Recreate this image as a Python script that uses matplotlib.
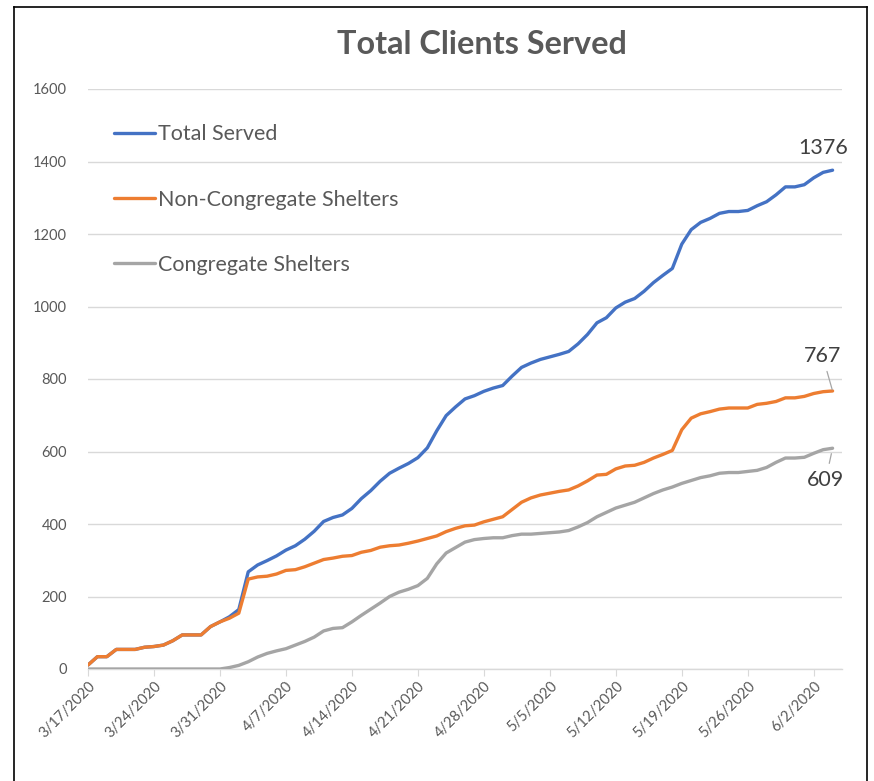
import numpy as np
import pandas as pd
import matplotlib
matplotlib.use("Agg")
import matplotlib.pyplot as plt
from matplotlib.lines import Line2D

plt.rcParams["font.family"] = ["Lato", "DejaVu Sans"]

# ---------------------------------------------------------------- data
dates = pd.date_range("2020-03-17", periods=80, freq="D")

non_congregate = [
    11, 34, 34, 54, 54, 54, 60, 62, 66, 78,
    94, 94, 94, 117, 130, 140, 154, 248, 254, 256,
    262, 272, 274, 282, 292, 302, 306, 311, 313, 322,
    327, 336, 340, 342, 347, 353, 360, 367, 379, 388,
    395, 397, 406, 413, 420, 440, 460, 472, 480, 485,
    490, 494, 505, 519, 535, 537, 552, 560, 562, 570,
    582, 592, 603, 660, 692, 704, 710, 717, 720, 720,
    720, 730, 733, 738, 748, 748, 752, 760, 765, 767,
]
congregate = [
    0, 0, 0, 0, 0, 0, 0, 0, 0, 0,
    0, 0, 0, 0, 0, 4, 10, 20, 33, 43,
    50, 56, 66, 76, 88, 105, 112, 114, 130, 148,
    165, 182, 200, 212, 220, 230, 250, 290, 320, 335,
    350, 357, 360, 362, 362, 368, 372, 372, 374, 376,
    378, 382, 392, 404, 420, 432, 444, 452, 460, 472,
    484, 494, 502, 512, 520, 528, 533, 540, 542, 542,
    545, 548, 556, 570, 582, 582, 584, 595, 605, 609,
]
total_served = [
    11, 34, 34, 54, 54, 54, 60, 62, 66, 78,
    94, 94, 94, 117, 130, 144, 164, 268, 287, 299,
    312, 328, 340, 358, 380, 407, 418, 425, 443, 470,
    492, 518, 540, 554, 567, 583, 610, 657, 699, 723,
    745, 754, 766, 775, 782, 808, 832, 844, 854, 861,
    868, 876, 897, 923, 955, 969, 996, 1012, 1022, 1042,
    1066, 1086, 1105, 1172, 1212, 1232, 1243, 1257, 1262, 1262,
    1265, 1278, 1289, 1308, 1330, 1330, 1336, 1355, 1370, 1376,
]

series = [
    ("Total Served", total_served, "#4472C4"),
    ("Non-Congregate Shelters", non_congregate, "#ED7D31"),
    ("Congregate Shelters", congregate, "#A5A5A5"),
]

tick_dates = pd.date_range("2020-03-17", "2020-06-02", freq="7D")
tick_labels = [f"{d.month}/{d.day}/{d.year}" for d in tick_dates]
y_ticks = [0, 200, 400, 600, 800, 1000, 1200, 1400, 1600]

# ---------------------------------------------------------------- figure
W, H = 874, 781
fig = plt.figure(figsize=(W / 100, H / 100), dpi=100)
ax = fig.add_axes([88 / W, 1 - 669 / H, (842 - 88) / W, (669 - 89) / H])

for name, vals, color in series:
    ax.plot(dates, vals, color=color, linewidth=2.4, label=name,
            solid_joinstyle="round", solid_capstyle="round", zorder=3)

ax.set_ylim(0, 1600)
ax.set_xlim(dates[0], dates[0] + pd.Timedelta(days=80))
ax.set_yticks(y_ticks)
ax.set_yticklabels([str(v) for v in y_ticks], fontsize=10.5, color="#595959")
ax.set_xticks(tick_dates)
ax.set_xticklabels(tick_labels, fontsize=10.5, color="#595959",
                   rotation=45, ha="right", rotation_mode="anchor")
ax.tick_params(axis="y", length=0, pad=15)
ax.tick_params(axis="x", length=5, width=0.8, color="#d9d9d9", pad=2)

ax.grid(axis="y", color="#d9d9d9", linewidth=1.0, zorder=0)
for s in ["top", "right", "left"]:
    ax.spines[s].set_visible(False)
ax.spines["bottom"].set_color("#d9d9d9")
ax.spines["bottom"].set_linewidth(1.0)

fig.text(482 / W, 1 - 45 / H, "Total Clients Served", ha="center", va="center",
         fontsize=23.3, fontweight="bold", color="#595959")

leg = ax.legend(loc="upper left", bbox_to_anchor=(114 / W, 1 - 124.5 / H),
                bbox_transform=fig.transFigure, frameon=False, fontsize=15.5,
                labelspacing=2.1, handlelength=1.9, handletextpad=0.15,
                borderpad=0, borderaxespad=0)
for t in leg.get_texts():
    t.set_color("#595959")

# data labels on last points
last = dates[-1]
ax.annotate("1376", xy=(last, total_served[-1]), xytext=(-9, 22),
            textcoords="offset pixels", ha="center", va="center",
            fontsize=15.5, color="#404040")
ax.annotate("767", xy=(last, non_congregate[-1]), xytext=(-10, 35),
            textcoords="offset pixels", ha="center", va="center",
            fontsize=15.5, color="#404040",
            arrowprops=dict(arrowstyle="-", color="#a6a6a6", lw=0.9,
                            shrinkA=2, shrinkB=1))
ax.annotate("609", xy=(last, congregate[-1]), xytext=(-7, -32),
            textcoords="offset pixels", ha="center", va="center",
            fontsize=15.5, color="#404040",
            arrowprops=dict(arrowstyle="-", color="#a6a6a6", lw=0.9,
                            shrinkA=3, shrinkB=4))

# outer frame like the screenshot
for (x0, y0, x1, y1) in [(14, 7, 14, H), (14, 7, 867, 7), (867, 7, 867, H)]:
    fig.add_artist(Line2D([x0 / W, x1 / W], [1 - y0 / H, 1 - y1 / H],
                          transform=fig.transFigure, color="black", linewidth=1.2))

fig.savefig("out.png", dpi=100)
